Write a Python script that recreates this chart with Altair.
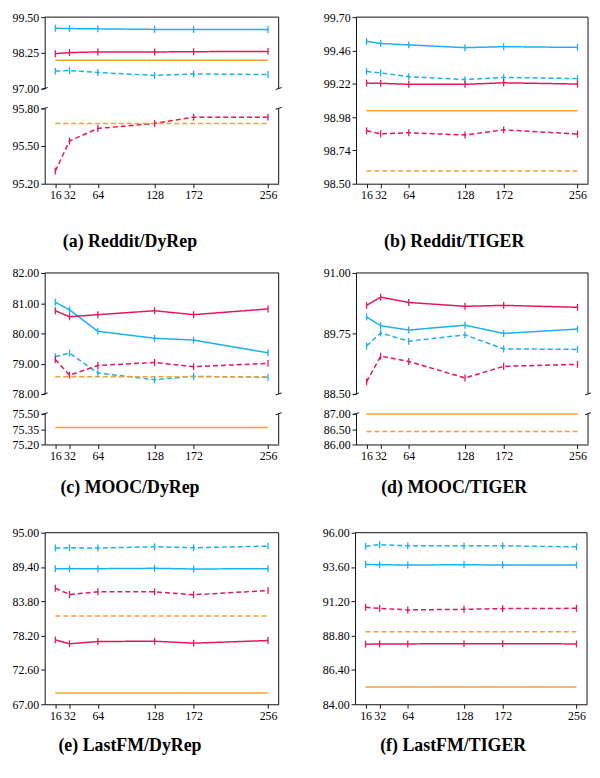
import altair as alt
import pandas as pd

X = [16, 32, 64, 128, 172, 256]
SERIES = ["blue_solid", "blue_dashed", "red_solid", "red_dashed", "orange_solid", "orange_dashed"]
SERIES_COLORS = ["#1AB0F0", "#1AB0F0", "#E3175B", "#E3175B", "#F5A034", "#F5A034"]
SERIES_DASH = [[1, 0], [5, 3], [1, 0], [5, 3], [1, 0], [5, 3]]
MARKED = ["blue_solid", "blue_dashed", "red_solid", "red_dashed"]

# (a) Reddit/DyRep
a_blue_solid = [99.11, 99.10, 99.09, 99.07, 99.07, 99.07]
a_blue_dashed = [97.61, 97.63, 97.56, 97.46, 97.51, 97.49]
a_red_solid = [98.22, 98.26, 98.28, 98.28, 98.29, 98.30]
a_red_dashed = [95.30, 95.54, 95.64, 95.68, 95.73, 95.73]
a_orange_solid = [97.99, 97.99, 97.99, 97.99, 97.99, 97.99]
a_orange_dashed = [95.68, 95.68, 95.68, 95.68, 95.68, 95.68]

# (b) Reddit/TIGER
b_blue_solid = [99.526, 99.510, 99.500, 99.480, 99.487, 99.482]
b_blue_dashed = [99.308, 99.298, 99.271, 99.250, 99.266, 99.257]
b_red_solid = [99.225, 99.223, 99.216, 99.216, 99.227, 99.218]
b_red_dashed = [98.881, 98.860, 98.867, 98.851, 98.888, 98.858]
b_orange_solid = [99.025, 99.025, 99.025, 99.025, 99.025, 99.025]
b_orange_dashed = [98.592, 98.592, 98.592, 98.592, 98.592, 98.592]

# (c) MOOC/DyRep
c_blue_solid = [81.03, 80.78, 80.07, 79.84, 79.78, 79.36]
c_blue_dashed = [79.23, 79.35, 78.69, 78.47, 78.58, 78.55]
c_red_solid = [80.75, 80.55, 80.62, 80.75, 80.62, 80.81]
c_red_dashed = [79.14, 78.62, 78.94, 79.04, 78.90, 79.01]
c_orange_solid = [75.365, 75.365, 75.365, 75.365, 75.365, 75.365]
c_orange_dashed = [78.57, 78.57, 78.57, 78.57, 78.57, 78.57]

# (d) MOOC/TIGER
d_blue_solid = [90.09, 89.91, 89.82, 89.92, 89.75, 89.84]
d_blue_dashed = [89.49, 89.76, 89.59, 89.72, 89.43, 89.42]
d_red_solid = [90.33, 90.50, 90.39, 90.31, 90.33, 90.29]
d_red_dashed = [88.75, 89.28, 89.17, 88.83, 89.07, 89.11]
d_orange_solid = [86.99, 86.99, 86.99, 86.99, 86.99, 86.99]
d_orange_dashed = [86.42, 86.42, 86.42, 86.42, 86.42, 86.42]

# (e) LastFM/DyRep
e_blue_solid = [89.13, 89.13, 89.13, 89.19, 89.08, 89.13]
e_blue_dashed = [92.49, 92.55, 92.49, 92.71, 92.55, 92.81]
e_red_solid = [77.51, 76.87, 77.24, 77.29, 76.97, 77.40]
e_red_dashed = [85.93, 84.92, 85.35, 85.35, 84.87, 85.56]
e_orange_solid = [68.82, 68.82, 68.82, 68.82, 68.82, 68.82]
e_orange_dashed = [81.40, 81.40, 81.40, 81.40, 81.40, 81.40]

# (f) LastFM/TIGER
f_blue_solid = [93.78, 93.76, 93.74, 93.76, 93.74, 93.74]
f_blue_dashed = [95.05, 95.17, 95.08, 95.08, 95.08, 95.01]
f_red_solid = [88.20, 88.22, 88.22, 88.24, 88.24, 88.22]
f_red_dashed = [90.78, 90.71, 90.60, 90.64, 90.69, 90.71]
f_orange_solid = [85.20, 85.20, 85.20, 85.20, 85.20, 85.20]
f_orange_dashed = [89.07, 89.07, 89.07, 89.07, 89.07, 89.07]

TITLES = ["(a) Reddit/DyRep", "(b) Reddit/TIGER", "(c) MOOC/DyRep",
          "(d) MOOC/TIGER", "(e) LastFM/DyRep", "(f) LastFM/TIGER"]

a_ticks_up = [97.00, 98.25, 99.50]
a_ticks_low = [95.20, 95.50, 95.80]
b_ticks = [98.50, 98.74, 98.98, 99.22, 99.46, 99.70]
c_ticks_up = [78.00, 79.00, 80.00, 81.00, 82.00]
c_ticks_low = [75.20, 75.35, 75.50]
d_ticks_up = [88.50, 89.75, 91.00]
d_ticks_low = [86.00, 86.50, 87.00]
e_ticks = [67.00, 72.60, 78.20, 83.80, 89.40, 95.00]
f_ticks = [84.00, 86.40, 88.80, 91.20, 93.60, 96.00]

X_DOMAIN = [4, 268]
WL = 236
WR = 234
INK = "#111111"


def make_df(bs, bd, rs, rd, os_, od):
    rows = []
    for name, vals in zip(SERIES, [bs, bd, rs, rd, os_, od]):
        for xv, v in zip(X, vals):
            rows.append({"x": xv, "value": v, "series": name})
    return pd.DataFrame(rows)


one = pd.DataFrame({"k": [0]})


def rule(**enc):
    return alt.Chart(one).mark_rule(color=INK, strokeWidth=1).encode(**enc)


def segment(df, lo, hi, ticks, w, h, kind, title=None, dx=0, offset=20):
    sub = df[(df["value"] >= lo) & (df["value"] <= hi)]
    xax = None
    if kind in ("low", "full"):
        xax = alt.Axis(values=X, format="d", labelOverlap=False, labelFlush=False,
                       grid=False, tickSize=4, title=None)
    xenc = alt.X("x:Q", scale=alt.Scale(domain=X_DOMAIN, nice=False, zero=False), axis=xax)
    yenc = alt.Y("value:Q", scale=alt.Scale(domain=[lo, hi], nice=False, zero=False),
                 axis=alt.Axis(values=ticks, format=".2f", grid=False, tickSize=4, title=None))
    cscale = alt.Scale(domain=SERIES, range=SERIES_COLORS)
    lines = alt.Chart(sub).mark_line(strokeWidth=1.5).encode(
        x=xenc, y=yenc,
        color=alt.Color("series:N", scale=cscale, legend=None),
        strokeDash=alt.StrokeDash("series:N", scale=alt.Scale(domain=SERIES, range=SERIES_DASH), legend=None),
        detail="series:N",
    )
    pts = alt.Chart(sub).transform_filter(
        alt.FieldOneOfPredicate(field="series", oneOf=MARKED)
    ).mark_point(shape="M0,-1L0,1", size=49, filled=False, strokeWidth=1.3, opacity=1).encode(
        x=xenc, y=yenc,
        color=alt.Color("series:N", scale=cscale, legend=None),
    )
    layers = [lines, pts]
    layers.append(rule(x=alt.value(w), y=alt.value(0), y2=alt.value(h)))
    if kind in ("up", "full"):
        layers.append(rule(x=alt.value(0), x2=alt.value(w), y=alt.value(0)))
    if kind == "up":
        layers.append(rule(x=alt.value(-3), x2=alt.value(3), y=alt.value(h + 1), y2=alt.value(h - 1)))
        layers.append(rule(x=alt.value(w - 3), x2=alt.value(w + 3), y=alt.value(h + 1), y2=alt.value(h - 1)))
    if kind == "low":
        layers.append(rule(x=alt.value(-3), x2=alt.value(3), y=alt.value(1), y2=alt.value(-1)))
        layers.append(rule(x=alt.value(w - 3), x2=alt.value(w + 3), y=alt.value(1), y2=alt.value(-1)))
    props = dict(width=w, height=h)
    if title:
        props["title"] = alt.TitleParams(title, orient="bottom", anchor="middle", frame="group",
                                         dx=dx, offset=offset, font="Liberation Serif",
                                         fontSize=18, fontWeight="bold", color="black")
    return alt.layer(*layers).properties(**props)


dfa = make_df(a_blue_solid, a_blue_dashed, a_red_solid, a_red_dashed, a_orange_solid, a_orange_dashed)
dfb = make_df(b_blue_solid, b_blue_dashed, b_red_solid, b_red_dashed, b_orange_solid, b_orange_dashed)
dfc = make_df(c_blue_solid, c_blue_dashed, c_red_solid, c_red_dashed, c_orange_solid, c_orange_dashed)
dfd = make_df(d_blue_solid, d_blue_dashed, d_red_solid, d_red_dashed, d_orange_solid, d_orange_dashed)
dfe = make_df(e_blue_solid, e_blue_dashed, e_red_solid, e_red_dashed, e_orange_solid, e_orange_dashed)
dff = make_df(f_blue_solid, f_blue_dashed, f_red_solid, f_red_dashed, f_orange_solid, f_orange_dashed)

LDX = -32
RDX = -18
INNER = 8

pa = alt.vconcat(
    segment(dfa, 97.0, 99.5, a_ticks_up, WL, 72, "up"),
    segment(dfa, 95.2, 95.8, a_ticks_low, WL, 76, "low", TITLES[0], LDX, 33),
    spacing=INNER)
pb = segment(dfb, 98.5, 99.7, b_ticks, WR, 168, "full", TITLES[1], RDX, 33)

pc = alt.vconcat(
    segment(dfc, 78.0, 82.0, c_ticks_up, WL, 122, "up"),
    segment(dfc, 75.2, 75.5, c_ticks_low, WL, 31, "low", TITLES[2], LDX, 18),
    spacing=INNER)
pd_ = alt.vconcat(
    segment(dfd, 88.5, 91.0, d_ticks_up, WR, 122, "up"),
    segment(dfd, 86.0, 87.0, d_ticks_low, WR, 31, "low", TITLES[3], RDX, 18),
    spacing=INNER)

pe = segment(dfe, 67.0, 95.0, e_ticks, WL, 173, "full", TITLES[4], LDX, 16)
pf = segment(dff, 84.0, 96.0, f_ticks, WR, 173, "full", TITLES[5], RDX, 16)

row1 = alt.hconcat(pa, pb, spacing=41)
row2 = alt.hconcat(pc, pd_, spacing=41)
row3 = alt.hconcat(pe, pf, spacing=43)

chart = alt.vconcat(alt.vconcat(row1, row2, spacing=16), row3, spacing=30).properties(
    padding={"left": 4, "top": 0, "right": 0, "bottom": 0}
).configure_view(stroke=None).configure_axis(
    labelFont="Liberation Serif", labelFontSize=12, labelColor="black",
    domainColor=INK, tickColor=INK, labelPadding=2, domainWidth=1, tickWidth=1
)

chart.save("out.html", embed_options={"renderer": "svg", "actions": False})
